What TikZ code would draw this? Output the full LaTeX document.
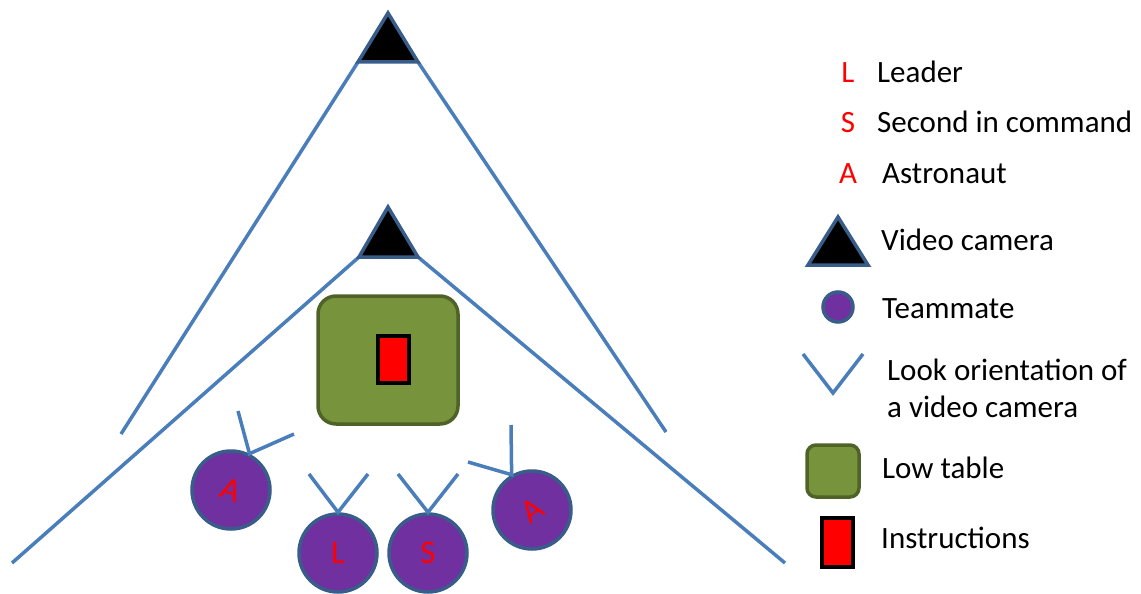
\documentclass[tikz,border=0pt]{standalone}
\usepackage{fontspec}
\setmainfont{Carlito}
\definecolor{lookblue}{HTML}{4A7EBB}
\definecolor{edgeblue}{HTML}{385D8A}
\definecolor{matepurple}{HTML}{7030A0}
\definecolor{tablegreen}{HTML}{77933C}
\definecolor{tableedge}{HTML}{4F6228}
\tikzset{
  look/.style={lookblue, line width=3.5pt},
  camera/.style={fill=black, draw=edgeblue, line width=3.5pt, line join=miter},
  mate/.style={circle, fill=matepurple, draw=edgeblue, line width=3.5pt, minimum size=78pt, inner sep=0pt, text=red, font=\fontsize{33}{36}\selectfont},
  lowtable/.style={fill=tablegreen, draw=tableedge, line width=3.5pt, rounded corners=18pt},
  instr/.style={fill=red, draw=black, line width=3.5pt},
  legtext/.style={anchor=base west, inner sep=0pt, font=\fontsize{31}{37}\selectfont},
  legletter/.style={legtext, anchor=base, text=red}
}
\begin{document}
\begin{tikzpicture}[x=1pt, y=-1pt]
  \useasboundingbox (0,0) rectangle (1141,594);
  % camera fields of view
  \draw[look] (121,434) -- (358,62);
  \draw[look] (666,432) -- (418,62);
  \draw[look] (12,563) -- (359,257);
  \draw[look] (785,563) -- (418,257);
  % cameras
  \filldraw[camera] (388,13) -- (418,62) -- (358,62) -- cycle;
  \filldraw[camera] (388,207) -- (418,257) -- (359,257) -- cycle;
  % low table with the instructions on it
  \filldraw[lowtable] (318,296) rectangle (458,424);
  \filldraw[instr] (378,336) rectangle (409,383);
  % teammates
  \node[mate] (astroleft) at (231,490) {\rotatebox{-20}{A}};
  \node[mate] (leader) at (338,553) {L};
  \node[mate] (second) at (428,553) {S};
  \node[mate] (astroright) at (532,510) {\rotatebox{35}{A}};
  % look orientations
  \draw[look] (238,411) -- (astroleft.63) -- (294,434);
  \draw[look] (309,474) -- (leader.north) -- (368,474);
  \draw[look] (398,474) -- (second.north) -- (458,474);
  \draw[look] (468,462) -- (astroright.120) -- (511,425);
  % legend
  \node[legletter] (keyL) at (848,83) {L};
  \node[legletter] (keyS) at (848,132) {S};
  \node[legletter] (keyA) at (848,183) {A};
  \node[legtext] (txtL) at (877,83) {Leader};
  \node[legtext] (txtS) at (877,132) {Second in command};
  \node[legtext] (txtA) at (882,183) {Astronaut};
  \filldraw[camera] (838,217) -- (868,265) -- (808,265) -- cycle;
  \node[legtext] (txtcam) at (881,250) {Video camera};
  \node[mate, minimum size=30pt] (keymate) at (838,307) {};
  \node[legtext] (txtmate) at (882,318) {Teammate};
  \draw[look] (803,354) -- (833,393) -- (863,354);
  \node[legtext] (txtlook) at (887,380) {Look orientation of};
  \node[legtext] (txtlook2) at (887,417) {a video camera};
  \filldraw[lowtable, rounded corners=9pt] (807,445) rectangle (859,497);
  \node[legtext] (txttable) at (882,478) {Low table};
  \filldraw[instr] (822,518) rectangle (853,567);
  \node[legtext] (txtinstr) at (881,548) {Instructions};
\end{tikzpicture}
\end{document}
